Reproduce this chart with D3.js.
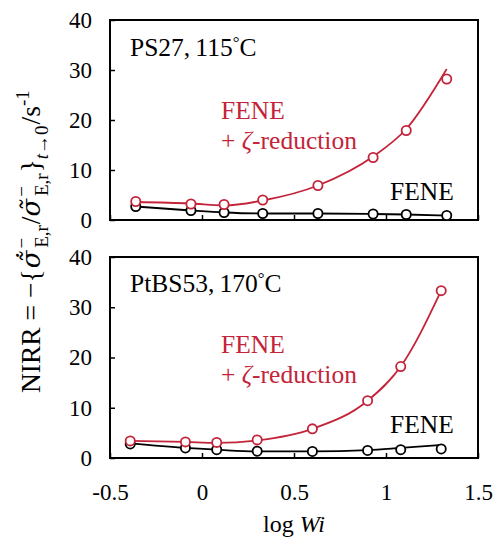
<!DOCTYPE html>
<html>
<head>
<meta charset="utf-8">
<script src="https://d3js.org/d3.v7.min.js"></script>
<style>
  body { margin: 0; background: #fff; }
  svg { display: block; font-family: "Liberation Serif", "Times New Roman", serif; }
</style>
</head>
<body>
<svg id="drawing_region"></svg>
<script>
// log Wi positions of the points
const logWiTop = [-0.36, -0.06, 0.12, 0.33, 0.63, 0.93, 1.11, 1.33];
const logWiBot = [-0.39, -0.09, 0.08, 0.30, 0.60, 0.90, 1.08, 1.30];

// PS27, 115C
const redPtsTop   = [3.7, 3.2, 3.1, 4.0, 6.9, 12.5, 17.9, 28.2];
const redLineTop  = [3.6, 3.3, 2.9, 3.9, 6.9, 12.7, 18.2, 30.2];
const blackPtsTop = [2.7, 1.9, 1.5, 1.3, 1.3, 1.2, 1.1, 0.9];
const blackLineTop = [2.7, 1.9, 1.5, 1.3, 1.3, 1.2, 1.1, 0.9];

// PtBS53, 170C
const redPtsBot   = [3.4, 3.2, 3.1, 3.6, 5.8, 11.4, 18.2, 33.3];
const redLineBot  = [3.4, 3.2, 3.0, 3.5, 5.8, 11.4, 18.2, 33.3];
const blackPtsBot = [2.8, 2.0, 1.65, 1.35, 1.3, 1.5, 1.65, 1.8];
const blackLineBot = [2.9, 2.0, 1.65, 1.3, 1.3, 1.55, 2.0, 2.6];

const xTicks = [-0.5, 0, 0.5, 1, 1.5];
const yTicks = [0, 10, 20, 30, 40];

const RED = '#c4243a';

const svg = d3.select('#drawing_region')
    .attr('width', 494)
    .attr('height', 540);

const xscale = d3.scaleLinear()
    .domain([-0.5, 1.5])
    .range([110, 478]);

class Panel {
    constructor( config, data ) {
        this.config = config;
        this.data = data;
        this.init();
    }

    init() {
        let self = this;
        self.yscale = d3.scaleLinear()
            .domain([0, 40])
            .range([self.config.bottom, self.config.top]);
        self.chart = svg.append('g');
    }

    render() {
        let self = this;
        const c = self.config;

        // y axis with inward ticks
        const yaxis = d3.axisLeft(self.yscale)
            .tickValues(yTicks)
            .tickSizeInner(-5)
            .tickSizeOuter(0)
            .tickPadding(18);
        const yg = self.chart.append('g')
            .attr('transform', `translate(${xscale(-0.5)},0)`)
            .call(yaxis);
        yg.select('.domain').remove();
        yg.selectAll('line').attr('stroke', '#000').attr('stroke-width', 1.5);
        yg.selectAll('text')
            .attr('font-size', '23px')
            .attr('font-family', '"Liberation Serif", serif')
            .attr('fill', '#000');

        // x axis, inward ticks
        const xaxis = d3.axisBottom(xscale)
            .tickValues(xTicks)
            .tickSizeInner(-5)
            .tickSizeOuter(0)
            .tickPadding(26)
            .tickFormat(d => c.showX ? String(d) : '');
        const xg = self.chart.append('g')
            .attr('transform', `translate(0,${c.bottom})`)
            .call(xaxis);
        xg.select('.domain').remove();
        xg.selectAll('line').attr('stroke', '#000').attr('stroke-width', 1.5);
        xg.selectAll('text')
            .attr('font-size', '23px')
            .attr('font-family', '"Liberation Serif", serif')
            .attr('fill', '#000');

        // frame
        self.chart.append('rect')
            .attr('x', xscale(-0.5))
            .attr('y', self.yscale(40))
            .attr('width', xscale(1.5) - xscale(-0.5))
            .attr('height', self.yscale(0) - self.yscale(40))
            .attr('fill', 'none')
            .attr('stroke', '#000')
            .attr('stroke-width', 2);

        const line = d3.line()
            .x(d => xscale(d[0]))
            .y(d => self.yscale(d[1]))
            .curve(d3.curveMonotoneX);

        const series = [
            { line: self.data.blackLine, pts: self.data.blackPts, color: '#000' },
            { line: self.data.redLine, pts: self.data.redPts, color: RED }
        ];

        series.forEach( s => {
            self.chart.append('path')
                .datum(self.data.x.map((x, i) => [x, s.line[i]]))
                .attr('d', line)
                .attr('fill', 'none')
                .attr('stroke', s.color)
                .attr('stroke-width', 1.8);

            self.chart.selectAll(null)
                .data(self.data.x.map((x, i) => [x, s.pts[i]]))
                .enter()
                .append('circle')
                .attr('cx', d => xscale(d[0]))
                .attr('cy', d => self.yscale(d[1]))
                .attr('r', 4.6)
                .attr('fill', '#fff')
                .attr('stroke', s.color)
                .attr('stroke-width', 1.8);
        });

        // annotations
        const t = self.chart.append('text')
            .attr('x', 130)
            .attr('y', c.titleY)
            .attr('font-size', '25.5px');
        t.append('tspan').text(c.title);
        t.append('tspan').attr('font-size', '17px').attr('dy', -8).text('\u00B0');
        t.append('tspan').attr('dy', 8).text('C');

        const red = self.chart.append('text')
            .attr('fill', RED)
            .attr('font-size', '25.5px');
        red.append('tspan').attr('x', 221).attr('y', c.redY).text('FENE');
        const r2 = red.append('tspan').attr('x', 221).attr('y', c.redY + 29.5);
        r2.append('tspan').text('+ ');
        r2.append('tspan').attr('font-style', 'italic').text('ζ');
        r2.append('tspan').text('-reduction');

        self.chart.append('text')
            .attr('x', 390)
            .attr('y', c.blackY)
            .attr('font-size', '25.5px')
            .text('FENE');
    }
}

const top_panel = new Panel(
    { top: 20, bottom: 220, showX: false, title: 'PS27,\u2009115', titleY: 56, redY: 119, blackY: 200 },
    { x: logWiTop, redPts: redPtsTop, redLine: redLineTop, blackPts: blackPtsTop, blackLine: blackLineTop }
);
top_panel.render();

const bottom_panel = new Panel(
    { top: 257, bottom: 458, showX: true, title: 'PtBS53,\u2009170', titleY: 292, redY: 353, blackY: 433 },
    { x: logWiBot, redPts: redPtsBot, redLine: redLineBot, blackPts: blackPtsBot, blackLine: blackLineBot }
);
bottom_panel.render();

// x label
const xlab = svg.append('text')
    .attr('x', xscale(0.5))
    .attr('y', 532)
    .attr('text-anchor', 'middle')
    .attr('font-size', '24px');
xlab.append('tspan').text('log ');
xlab.append('tspan').attr('font-style', 'italic').text('Wi');

// y label (rotated)
const SUB = '19px';
const ylab = svg.append('text')
    .attr('transform', 'translate(40,393) rotate(-90)')
    .attr('text-anchor', 'start')
    .attr('font-size', '27.5px');
ylab.append('tspan').text('NIRR = \u2212{');
ylab.append('tspan').attr('font-style', 'italic').attr('font-family', '"DejaVu Serif", serif')
    .attr('font-size', '26px').attr('dx', 1).text('\u03C3\u0303\u0307');
ylab.append('tspan').attr('font-size', SUB).attr('dy', -12).attr('dx', 2).text('\u2212');
ylab.append('tspan').attr('font-size', SUB).attr('dx', -10).attr('dy', 20).text('E,r');
ylab.append('tspan').attr('dy', -8).attr('dx', 1).text('/');
ylab.append('tspan').attr('font-style', 'italic').attr('font-family', '"DejaVu Serif", serif')
    .attr('font-size', '26px').text('\u03C3\u0303');
ylab.append('tspan').attr('font-size', SUB).attr('dy', -12).attr('dx', 2).text('\u2212');
ylab.append('tspan').attr('font-size', SUB).attr('dx', -10).attr('dy', 20).text('E,r');
ylab.append('tspan').attr('dy', -8).attr('dx', 1).text('}');
ylab.append('tspan').attr('font-size', SUB).attr('font-style', 'italic').attr('dy', 8).text('t');
ylab.append('tspan').attr('font-size', SUB).text('\u21920');
ylab.append('tspan').attr('dy', -8).attr('dx', 1).text('/s');
ylab.append('tspan').attr('font-size', SUB).attr('dy', -11).text('-1');
</script>
</body>
</html>
